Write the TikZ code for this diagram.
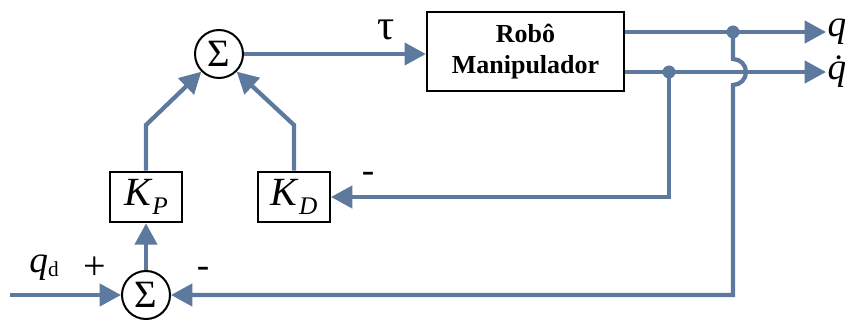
\documentclass[tikz,border=0pt]{standalone}
\usepackage{fontspec}
\setmainfont{Liberation Serif}
\usepackage{xcolor}
\usetikzlibrary{arrows.meta}
\definecolor{azulLinha}{RGB}{93,121,158}

\tikzset{
  somador/.style={draw=black,line width=1.5pt,circle,minimum size=36pt,inner sep=0pt,font=\fontsize{29}{31}\selectfont},
  bloco/.style={draw=black,line width=1.5pt,rectangle,inner sep=0pt},
  fio/.style={draw=azulLinha,line width=3.2pt},
  seta/.style={fio,-{Triangle[length=16pt,width=16.5pt]}},
  rotulo/.style={inner sep=1pt,font=\fontsize{28}{30}\selectfont}
}

\begin{document}
\begin{tikzpicture}[x=0.75pt,y=0.75pt,yscale=-1,xscale=1]
\useasboundingbox (0,0) rectangle (845,320);

%Shape: Circles
\draw (219,54) node (somaTau) [somador] {Σ};
\draw (146,295) node (somaErro) [somador] {Σ};
%Shape: Rectangles
\draw (525.5,51.5) node (robo) [bloco,minimum width=148pt,minimum height=59pt,align=center,font=\bfseries\fontsize{19.5}{23}\selectfont] {Robô\\Manipulador};
\draw (146,197) node (kp) [bloco,minimum width=54pt,minimum height=38pt,font=\fontsize{30}{32}\selectfont] {\textit{K}\raisebox{-0.5ex}{\fontsize{19}{19}\selectfont\textit{P}}};
\draw (294,197) node (kd) [bloco,minimum width=54pt,minimum height=38pt,font=\fontsize{30}{32}\selectfont] {\textit{K}\raisebox{-0.5ex}{\fontsize{19}{19}\selectfont\textit{D}}};

% Text Node
\draw (386,30) node (tau) [rotulo,font=\fontsize{32}{34}\selectfont] {τ};
% Text Node
\draw (826,32) node (q) [rotulo,anchor=west] {\textit{q}};
% Text Node
\draw (826,72) node (qp) [rotulo,anchor=west] {\textit{\.q}};
% Text Node
\draw (44,268) node (qd) [rotulo] {\textit{q}\raisebox{-0.2ex}{\fontsize{16}{16}\selectfont d}};
% Text Node
\draw (95,268) node (mais) [rotulo,font=\fontsize{30}{32}\selectfont] {+};
% Text Node
\draw (203,272) node (menosP) [rotulo] {-};
% Text Node
\draw (368,177) node (menosD) [rotulo] {-};

%Junctions
\coordinate (jQ) at (733,32);
\coordinate (jQp) at (669,72);
\coordinate (entrada) at (10,295);

%Straight Lines
\draw [seta] (somaTau.east) -- (somaTau.east -| robo.west);
\draw [seta] (robo.east |- jQ) -- (q.west |- jQ);
\draw [seta] (robo.east |- jQp) -- (qp.west |- jQp);
\draw [seta] (entrada) -- (somaErro.west);
\draw [seta] (somaErro.north) -- (kp.south);
\draw [seta] (kp.north) -- (146,125) -- (somaTau.225);
\draw [seta] (kd.north) -- (294,125) -- (somaTau.315);
\draw [seta] (jQp) -- (jQp |- kd.east) -- (kd.east);
\draw [seta] (jQ) -- (733,59) arc[start angle=-90,end angle=90,radius=13] -- (733,295) -- (somaErro.east);
\fill [azulLinha] (jQ) circle (6.5);
\fill [azulLinha] (jQp) circle (6.5);

\end{tikzpicture}
\end{document}
